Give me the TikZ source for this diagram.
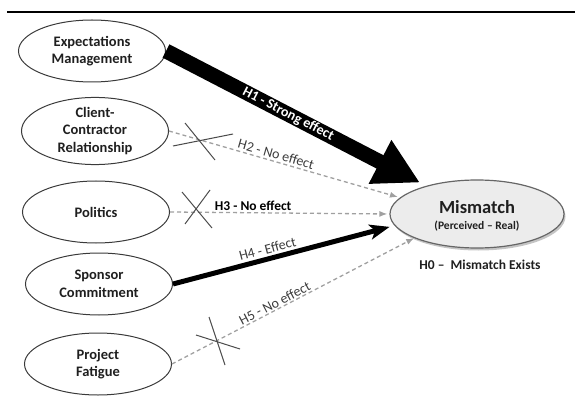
\documentclass[tikz,border=0pt]{standalone}
\usepackage{fontspec}
\setmainfont{Carlito}
\usetikzlibrary{arrows.meta,shapes.geometric,shadows}
\definecolor{ellborder}{HTML}{3A3A3A}
\definecolor{dashgray}{HTML}{A0A0A0}
\definecolor{labgray}{HTML}{3C3C3C}
\definecolor{mmfill}{HTML}{ECECEC}
\begin{document}
\begin{tikzpicture}[x=1pt,y=-1pt,
  cause/.style={ellipse, draw=ellborder, line width=1pt, minimum width=147pt,
    minimum height=62pt, inner sep=0pt, align=center,
    font=\fontsize{14.5}{17.5}\selectfont\bfseries, text=black!88},
  target/.style={ellipse, draw=black!60, line width=1.2pt, fill=mmfill,
    minimum width=174pt, minimum height=68pt, inner sep=0pt,
    drop shadow={shadow xshift=1.5pt, shadow yshift=-2.5pt, fill=black!45}},
  strongarrow/.style={draw=black, line width=15pt,
    -{Triangle[length=45pt,width=46pt]}},
  effarrow/.style={draw=black, line width=5pt,
    -{Stealth[length=20pt,width=15pt,inset=5pt]}},
  noeff/.style={draw=dashgray, line width=1.3pt, dash pattern=on 4pt off 3pt,
    -{Latex[length=8pt,width=6pt]}},
  lbl/.style={font=\fontsize{14}{16}\selectfont, text=labgray, inner sep=1pt},
  crossline/.style={draw=black!70, line width=1pt}
]
\useasboundingbox (0,0) rectangle (575,398);

% top rule
\coordinate (r1) at (7,12);
\coordinate (r2) at (575,12);
\draw[line width=2.6pt] (r1) -- (r2);

% cause ellipses
\node[cause] (em) at (92,51)  {Expectations\\Management};
\node[cause] (cc) at (95,131) {Client-\\Contractor\\Relationship};
\node[cause] (po) at (96,212) {Politics};
\node[cause] (sp) at (99,284) {Sponsor\\Commitment};
\node[cause] (pf) at (98,364) {Project\\Fatigue};

% target
\node[target] (mm) at (477,214) {};
\node[align=center, inner sep=0pt, text=black!88] (mmtxt) at (477,216)
  {{\fontsize{18.5}{20}\selectfont\bfseries Mismatch}\\[4pt]
   {\fontsize{11.5}{13}\selectfont\bfseries (Perceived – Real)}};
\node[font=\fontsize{13.5}{15}\selectfont\bfseries, text=black!88, inner sep=0pt]
  (h0) at (480,265) {H0 –\ \ Mismatch Exists};

% H1
\draw[strongarrow, shorten >=7pt] (em.east) --
  node[sloped, pos=0.47, font=\fontsize{14}{16}\selectfont\bfseries, text=white, inner sep=0pt]
  {H1 - Strong effect} (mm.151);

% H2
\draw[noeff, shorten >=2pt] (cc.east) --
  node[lbl, sloped, pos=0.455, above=1pt] {H2 - No effect} (mm.168);

% H3
\draw[noeff, shorten >=2pt] (po.east) --
  node[lbl, pos=0.379, above=1pt, text=black, font=\fontsize{13.5}{16}\selectfont\bfseries] {H3 - No effect} (mm.west);

% H4
\draw[effarrow, shorten >=5pt] (sp.east) --
  node[lbl, sloped, pos=0.438, above=1.5pt] {H4 - Effect} (mm.188);

% H5
\draw[noeff] (pf.east) --
  node[lbl, sloped, pos=0.436, above=0pt] {H5 - No effect} (mm.201);

% crosses
\draw[crossline] (185,123) -- (215,160);
\draw[crossline] (173,146) -- (233,134);
\draw[crossline] (182,192) -- (212,228);
\draw[crossline] (210,190) -- (185,224);
\draw[crossline] (209,317) -- (225,365);
\draw[crossline] (196,335) -- (240,349);
\end{tikzpicture}
\end{document}
